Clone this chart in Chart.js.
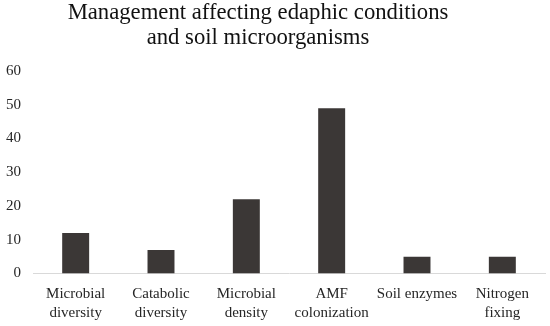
<!DOCTYPE html>
<html>
<head>
<meta charset="utf-8">
<script src="https://cdn.jsdelivr.net/npm/chart.js@4"></script>
<style>
  html, body { margin: 0; padding: 0; background: #fff; overflow: hidden; }
  #wrap { position: relative; width: 550px; height: 326px; overflow: hidden; }
  #title {
    position: absolute; left: 58px; width: 400px; top: -1px;
    text-align: center; font-family: 'Liberation Serif', serif; font-size: 22.7px;
    line-height: 25px; color: #111;
  }
</style>
</head>
<body>
<div id="wrap">
  <canvas id="chart" width="550" height="327"></canvas>
  <div id="title">Management affecting edaphic conditions<br>and soil microorganisms</div>
</div>
<script>
const categories = [
  ['Microbial', 'diversity'],
  ['Catabolic', 'diversity'],
  ['Microbial', 'density'],
  ['AMF', 'colonization'],
  'Soil enzymes',
  ['Nitrogen', 'fixing']
];
const counts = [12, 7, 22, 49, 5, 5];
const yTicks = [0, 10, 20, 30, 40, 50, 60];

const serif = "'Liberation Serif', serif";

new Chart(document.getElementById('chart'), {
  type: 'bar',
  data: {
    labels: categories,
    datasets: [{
      data: counts,
      backgroundColor: '#3b3736',
      borderWidth: 0,
      barPercentage: 0.316,
      categoryPercentage: 1
    }]
  },
  options: {
    responsive: false,
    animation: false,
    layout: { padding: { top: 71, right: 5, bottom: 2, left: 0 } },
    plugins: { legend: { display: false }, tooltip: { enabled: false } },
    scales: {
      x: {
        grid: { display: false },
        border: { display: true, color: '#d9d9d9', width: 1 },
        ticks: {
          color: '#262626',
          font: { family: serif, size: 15, lineHeight: 1.25 },
          maxRotation: 0,
          autoSkip: false,
          padding: 3
        }
      },
      y: {
        min: yTicks[0],
        max: yTicks[yTicks.length - 1],
        grid: { display: false },
        border: { display: false },
        afterFit: (axis) => { axis.width = 33; },
        afterBuildTicks: (axis) => { axis.ticks = yTicks.map(v => ({ value: v })); },
        ticks: {
          color: '#262626',
          font: { family: serif, size: 15 },
          padding: 4
        }
      }
    }
  }
});
</script>
</body>
</html>
